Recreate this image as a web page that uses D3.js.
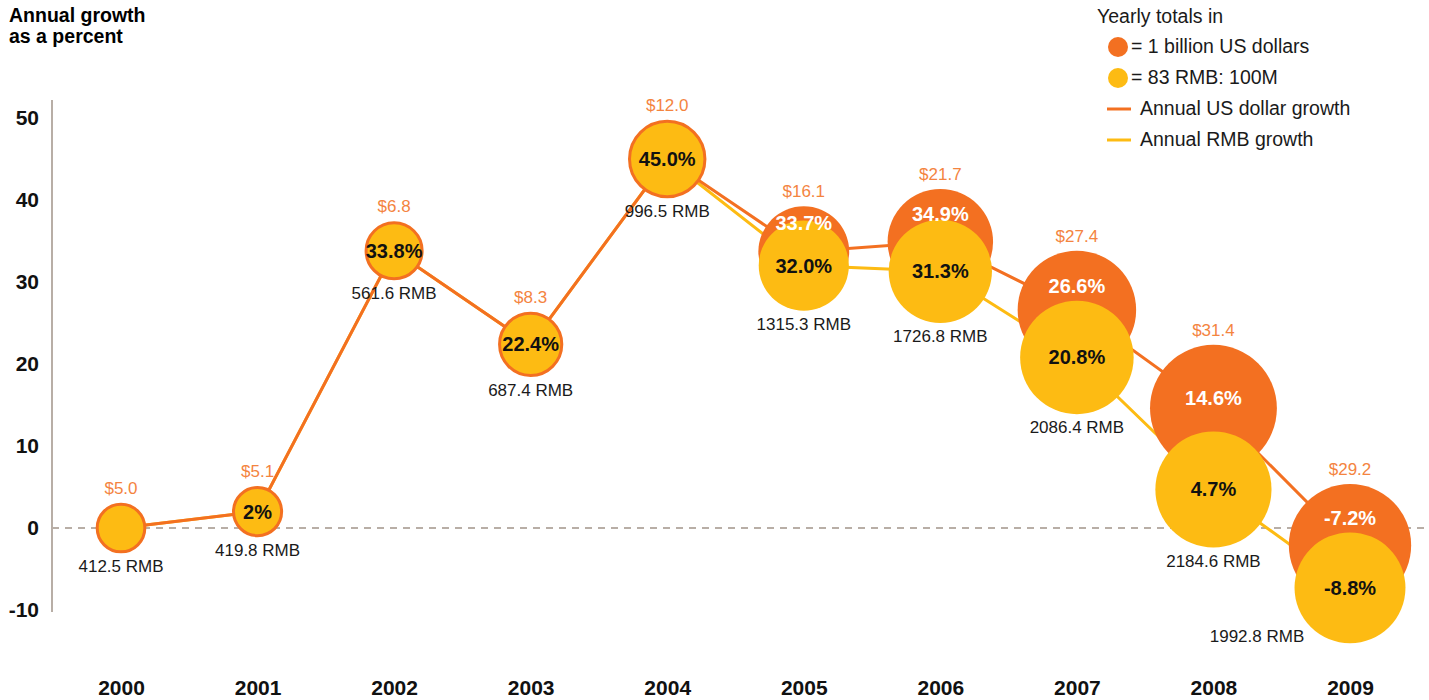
<!DOCTYPE html>
<html>
<head>
<meta charset="utf-8">
<script src="https://cdn.jsdelivr.net/npm/d3@7"></script>
<style>
body { margin: 0; background: #fff; }
svg { display: block; font-family: "Liberation Sans", Arial, sans-serif; }
</style>
</head>
<body>
<svg id="chart" width="1429" height="700"></svg>
<script>
const years = ['2000', '2001', '2002', '2003', '2004', '2005', '2006', '2007', '2008', '2009']
// totals: billion US dollars and 100M RMB
const usdTotal = [5.0, 5.1, 6.8, 8.3, 12.0, 16.1, 21.7, 27.4, 31.4, 29.2]
const rmbTotal = [412.5, 419.8, 561.6, 687.4, 996.5, 1315.3, 1726.8, 2086.4, 2184.6, 1992.8]
// growth labels as printed
const usdGrowthLabel = ['', '2%', '33.8%', '22.4%', '45.0%', '33.7%', '34.9%', '26.6%', '14.6%', '-7.2%']
const rmbGrowthLabel = ['', '2%', '33.8%', '22.4%', '45.0%', '32.0%', '31.3%', '20.8%', '4.7%', '-8.8%']
// growth as plotted on the axis (2009 circles sit higher than their printed values)
const usdGrowth = [0, 2, 33.8, 22.4, 45.0, 33.7, 34.9, 26.6, 14.6, -2.1]
const rmbGrowth = [0, 2, 33.8, 22.4, 45.0, 32.0, 31.3, 20.8, 4.7, -7.3]
const yTicks = [-10, 0, 10, 20, 30, 40, 50]
const rmbPerUnit = 83

const orange = '#f37021', yellow = '#fdbb13', orangeText = '#f4843f', axisCol = '#b8aea6'
const font = '"Liberation Sans", Arial, sans-serif'

const svg = d3.select('#chart')
const x = d3.scalePoint().domain(years).range([121, 1350])
const y = d3.scaleLinear().domain([-10, 50]).range([610, 118])
const r = d3.scaleSqrt().domain([0, 30]).range([0, 62])

const data = years.map((yr, i) => ({ yr, usd: usdTotal[i], rmb: rmbTotal[i], ug: usdGrowth[i], rg: rmbGrowth[i], ul: usdGrowthLabel[i], rl: rmbGrowthLabel[i] }))
data.forEach(d => {
  d.cx = x(d.yr); d.uy = y(d.ug); d.ry = y(d.rg)
  d.ur = r(d.usd); d.rr = r(d.rmb / rmbPerUnit)
  d.same = Math.abs(d.ug - d.rg) < 0.5
})

// title
svg.append('text').attr('x', 9).attr('y', 22).attr('font-size', 19.5).attr('font-weight', 'bold').text('Annual growth')
svg.append('text').attr('x', 9).attr('y', 43).attr('font-size', 19.5).attr('font-weight', 'bold').text('as a percent')

// y axis
const yAxis = svg.append('g').attr('transform', 'translate(52,0)')
  .call(d3.axisLeft(y).tickValues(yTicks).tickFormat(d => String(d)).tickSize(0).tickPadding(13))
yAxis.select('.domain').attr('stroke', axisCol).attr('stroke-width', 2).attr('d', `M0,${y(50) - 18}V${y(-10) + 2}`)
yAxis.selectAll('text').attr('font-size', 21).attr('font-weight', 'bold').attr('fill', '#111').attr('font-family', font)

// zero line
svg.append('line').attr('x1', 52).attr('x2', 1429).attr('y1', y(0)).attr('y2', y(0))
  .attr('stroke', axisCol).attr('stroke-width', 2).attr('stroke-dasharray', '7,6')

// x axis labels
const xAxis = svg.append('g').attr('transform', 'translate(0,680)').call(d3.axisBottom(x).tickSize(0).tickPadding(0))
xAxis.select('.domain').remove()
xAxis.selectAll('text').attr('font-size', 21).attr('font-weight', 'bold').attr('fill', '#111').attr('font-family', font)

// growth lines
const lineR = d3.line().x(d => d.cx).y(d => d.ry)
const lineU = d3.line().x(d => d.cx).y(d => d.uy)
svg.append('path').datum(data).attr('d', lineR).attr('fill', 'none').attr('stroke', yellow).attr('stroke-width', 3)
svg.append('path').datum(data).attr('d', lineU).attr('fill', 'none').attr('stroke', orange).attr('stroke-width', 3)

// circles
const g = svg.selectAll('g.yr').data(data).enter().append('g').attr('class', 'yr')
g.filter(d => !d.same).append('circle').attr('cx', d => d.cx).attr('cy', d => d.uy).attr('r', d => d.ur).attr('fill', orange)
g.append('circle').attr('cx', d => d.cx).attr('cy', d => d.ry).attr('r', d => d.same ? d.ur - 1.5 : d.rr)
  .attr('fill', yellow).attr('stroke', d => d.same ? orange : 'none').attr('stroke-width', 3)

// usd totals above
g.append('text').attr('x', d => d.cx).attr('y', d => Math.min(d.uy - d.ur, d.ry - d.rr) - 9)
  .attr('text-anchor', 'middle').attr('font-size', 17).attr('fill', orangeText).text(d => '$' + d.usd.toFixed(1))

// rmb totals below
const rmbShift = { '2009': -93 }
g.append('text').attr('x', d => d.cx + (rmbShift[d.yr] || 0)).attr('y', d => d.ry + (d.same ? d.ur : d.rr) + (rmbShift[d.yr] ? -1 : 19))
  .attr('text-anchor', 'middle').attr('font-size', 17).attr('fill', '#1a1a1a').text(d => d.rmb.toFixed(1) + ' RMB')

// percent labels
g.append('text').attr('x', d => d.cx).attr('y', d => d.ry).attr('dy', '0.35em')
  .attr('text-anchor', 'middle').attr('font-size', 20).attr('font-weight', 'bold').attr('fill', '#111').text(d => d.rl)
g.filter(d => !d.same).append('text').attr('x', d => d.cx)
  .attr('y', d => Math.min(d.uy, ((d.uy - d.ur) + (d.ry - d.rr)) / 2 + 10)).attr('dy', '0.35em')
  .attr('text-anchor', 'middle').attr('font-size', 20).attr('font-weight', 'bold').attr('fill', '#fff').text(d => d.ul)

// legend
const lg = svg.append('g').attr('font-size', 19.5).attr('fill', '#1a1a1a')
lg.append('text').attr('x', 1097).attr('y', 23).text('Yearly totals in')
lg.append('circle').attr('cx', 1118).attr('cy', 47).attr('r', 10).attr('fill', orange)
lg.append('text').attr('x', 1131).attr('y', 53).text('= 1 billion US dollars')
lg.append('circle').attr('cx', 1118).attr('cy', 78).attr('r', 10).attr('fill', yellow)
lg.append('text').attr('x', 1131).attr('y', 84).text('= 83 RMB: 100M')
lg.append('line').attr('x1', 1107).attr('x2', 1131).attr('y1', 109).attr('y2', 109).attr('stroke', orange).attr('stroke-width', 3)
lg.append('text').attr('x', 1140).attr('y', 115).text('Annual US dollar growth')
lg.append('line').attr('x1', 1107).attr('x2', 1131).attr('y1', 140).attr('y2', 140).attr('stroke', yellow).attr('stroke-width', 3)
lg.append('text').attr('x', 1140).attr('y', 146).text('Annual RMB growth')
</script>
</body>
</html>
